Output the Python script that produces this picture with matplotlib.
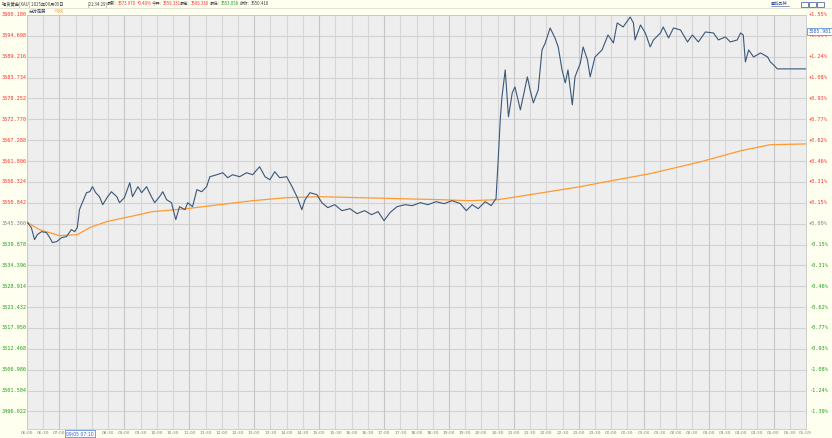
import matplotlib
matplotlib.use("Agg")
import matplotlib.pyplot as plt
from matplotlib.patches import Rectangle
from matplotlib.transforms import blended_transform_factory

plt.rcParams['font.family'] = ['Noto Sans CJK SC', 'DejaVu Sans']

# 分钟数(从06:00起) 与 价格
minutes = [1, 8, 14, 19, 27, 36, 42, 47, 55, 64, 73, 82, 88, 93, 97, 103, 110, 116, 121, 127,
           134, 140, 149, 156, 166, 171, 180, 190, 195, 205, 212, 221, 230, 236, 245, 251, 258,
           267, 275, 282, 292, 297, 306, 314, 323, 332, 338, 351, 362, 371, 380, 393, 406, 417,
           430, 440, 449, 458, 467, 480, 490, 499, 508, 514, 523, 536, 545, 556, 569, 582, 597,
           610, 624, 637, 649, 660, 671, 684, 699, 712, 727, 741, 756, 771, 786, 801, 812, 823,
           834, 847, 858, 867, 871, 875, 878, 884, 890, 897, 902, 912, 925, 930, 936, 945, 952,
           958, 967, 976, 982, 989, 995, 1000, 1008, 1013, 1023, 1028, 1036, 1041, 1050, 1063,
           1074, 1084, 1091, 1102, 1115, 1121, 1124, 1134, 1143, 1152, 1158, 1171, 1176, 1186,
           1195, 1208, 1221, 1230, 1241, 1254, 1269, 1278, 1291, 1300, 1313, 1319, 1324, 1328,
           1334, 1343, 1356, 1369, 1374, 1380, 1387, 1439]
prices = [3545.62, 3544.31, 3541.16, 3542.47, 3543.26, 3543.00, 3541.69, 3540.38, 3540.64, 3541.69,
          3541.95, 3543.79, 3543.26, 3544.31, 3549.03, 3551.13, 3553.49, 3553.75, 3555.07, 3553.49,
          3552.44, 3550.34, 3552.44, 3553.75, 3552.44, 3550.87, 3552.18, 3556.11, 3552.44, 3555.07,
          3553.49, 3555.07, 3552.44, 3550.87, 3552.44, 3553.75, 3551.66, 3550.87, 3546.41, 3549.82,
          3549.03, 3550.87, 3549.82, 3554.28, 3553.75, 3555.07, 3557.69, 3558.21, 3558.74, 3557.43,
          3558.21, 3557.69, 3558.74, 3558.21, 3560.31, 3557.69, 3556.90, 3559.00, 3557.43, 3557.69,
          3555.07, 3552.44, 3549.03, 3551.66, 3553.49, 3552.97, 3550.87, 3549.56, 3550.34, 3548.77,
          3549.29, 3547.98, 3548.77, 3547.72, 3548.51, 3546.15, 3548.25, 3549.82, 3550.34, 3550.08,
          3550.87, 3550.34, 3551.13, 3550.61, 3551.39, 3550.61, 3548.77, 3550.34, 3549.29, 3551.13,
          3550.08, 3551.92, 3562.15, 3573.16, 3578.67, 3585.75, 3573.43, 3579.72, 3581.29, 3575.26,
          3583.92, 3580.51, 3577.10, 3580.51, 3591.00, 3592.84, 3596.77, 3594.15, 3591.79, 3585.75,
          3582.34, 3585.75, 3576.57, 3583.92, 3587.59, 3591.79, 3588.38, 3583.92, 3589.16, 3591.00,
          3594.94, 3592.84, 3598.09, 3597.04, 3599.66, 3598.09, 3593.63, 3597.56, 3595.46, 3591.79,
          3593.63, 3595.46, 3597.04, 3594.15, 3596.77, 3596.25, 3593.10, 3594.94, 3593.10, 3595.72,
          3595.46, 3593.63, 3594.41, 3593.10, 3593.63, 3595.46, 3594.94, 3587.85, 3591.00, 3589.16,
          3590.21, 3589.16, 3587.85, 3587.07, 3586.02, 3586.02]

avg_minutes = [1, 23, 60, 93, 116, 147, 190, 232, 295, 356, 417, 480, 541, 689, 763, 819, 871,
               930, 1023, 1060, 1152, 1245, 1319, 1374, 1439]
avg_prices = [3545.62, 3543.79, 3542.21, 3542.47, 3544.31, 3545.88, 3547.20, 3548.51, 3549.29,
              3550.34, 3551.39, 3552.18, 3552.44, 3551.92, 3551.66, 3551.39, 3551.66, 3552.97,
              3555.07, 3556.10, 3558.50, 3561.60, 3564.50, 3566.10, 3566.30]

base = 3545.360
step = 5.482
levels = [base + k * step for k in range(-9, 11)]
pct_labels = ['-1.39%', '-1.24%', '-1.08%', '-0.93%', '-0.77%', '-0.62%', '-0.46%', '-0.31%',
              '-0.15%', '+0.00%', '+0.15%', '+0.31%', '+0.46%', '+0.62%', '+0.77%', '+0.93%',
              '+1.08%', '+1.24%', '+1.39%', '+1.55%']
time_labels = ['06:00', '06:30', '07:00', '07:30', '08:00', '08:30', '09:00', '09:30', '10:00',
               '10:30', '11:00', '11:30', '12:00', '12:30', '13:00', '13:30', '14:00', '14:30',
               '15:00', '15:30', '16:00', '16:30', '17:00', '17:30', '18:00', '18:30', '19:00',
               '19:30', '20:00', '20:30', '21:00', '21:30', '22:00', '22:30', '23:00', '23:30',
               '00:00', '00:30', '01:00', '01:30', '02:00', '02:30', '03:00', '03:30', '04:00',
               '04:30', '05:00', '05:30', '05:59']
tick_minutes = [30 * i for i in range(48)] + [1439]

W, H = 832, 438
cream = '#FFFFF0'
RED = '#FF3030'
GREEN = '#20A020'
GRAY = '#808080'
DARK = '#404040'

fig = plt.figure(figsize=(W / 100, H / 100), dpi=100, facecolor=cream)
x0, x1, ytop, ybot = 27, 806, 15, 429
ax = fig.add_axes([x0 / W, 1 - ybot / H, (x1 - x0) / W, (ybot - ytop) / H])
ax.set_facecolor('#EEEEEE')
ax.set_xlim(0, 1440)
ax.set_ylim(3491.4, 3600.18)

for lv in levels:
    ax.axhline(lv, color='#D2D2D2', lw=0.8, zorder=1)
for i, m in enumerate(tick_minutes[:-1]):
    ax.axvline(m, color='#C6C6C6' if i % 4 == 2 else '#D6D6D6', lw=0.8, zorder=1)

ax.plot(avg_minutes, avg_prices, color='#FF9A30', lw=0.9, zorder=3)
ax.plot(minutes, prices, color='#3B5777', lw=0.8, zorder=4)

ax.set_xticks([])
ax.set_yticks([])
for s in ax.spines.values():
    s.set_color('#C8C8C8')
    s.set_linewidth(0.6)

# 左右刻度标签
tr = blended_transform_factory(fig.transFigure, ax.transData)
mono = dict(family='DejaVu Sans Mono', fontsize=3.8)
for lv, pl in zip(levels, pct_labels):
    k = round((lv - base) / step)
    col = RED if k > 0 else (GREEN if k < 0 else GRAY)
    ax.text(2 / W, lv, f'{lv:.3f}', transform=tr, ha='left', va='center', color=col,
            clip_on=False, **mono)
    ax.text(809 / W, lv, pl, transform=tr, ha='left', va='center', color=col,
            clip_on=False, **mono)

# 时间标签
trx = blended_transform_factory(ax.transData, fig.transFigure)
ty = 1 - 433.5 / H
for m, lab in zip(tick_minutes, time_labels):
    if lab in ('07:30', '08:00'):
        continue
    ax.text(m, ty, lab, transform=trx, ha='center', va='center', fontsize=3.2,
            color=GRAY, family='DejaVu Sans', clip_on=False)
ax.text(72, ty, '09/05 07:10', transform=trx, ha='left', va='center', fontsize=3.3,
        color='#3060C0', family='DejaVu Sans', clip_on=False,
        bbox=dict(boxstyle='square,pad=0.2', fc='white', ec='#6090E0', lw=0.6))

# 最新价标签
ax.text(808.5 / W, 3595.9, '3585.981', transform=tr, ha='left', va='center', fontsize=3.4,
        color='#3060C0', family='DejaVu Sans Mono', clip_on=False,
        bbox=dict(boxstyle='square,pad=0.25', fc='white', ec='#6090E0', lw=0.6))

# 标题栏
fig.add_artist(plt.Line2D([0, 1], [1 - 7.5 / H, 1 - 7.5 / H], color='#E0E0D0', lw=0.6))
hy = 1 - 3.8 / H
fs = 3.1
renderer = fig.canvas.get_renderer()


def put_run(px, runs):
    # 依次排列彩色文字片段
    for s, c in runs:
        t = fig.text(px / W, hy, s, fontsize=fs, color=c, va='center')
        px = t.get_window_extent(renderer).x1 + 0.8


put_run(2, [('现货黄金[XAU] 2025年09月05日', DARK)])
put_run(87, [('[21:34:29]', DARK)])
put_run(107, [('最新:', DARK), ('3573.970', RED), ('+0.40%', RED)])
put_run(152, [('今开:', DARK), ('3559.331', RED)])
put_run(180, [('最高:', DARK), ('3595.330', RED)])
put_run(210, [('最低:', DARK), ('3553.058', GREEN)])
put_run(240, [('昨收:', DARK), ('3550.410', DARK)])

fig.text(29 / W, 1 - 11.3 / H, '分时走势', fontsize=3.2, color='#304060', va='center')
fig.text(55 / W, 1 - 11.3 / H, '均线', fontsize=3.2, color='#FF9A30', va='center')
fig.text(771 / W, hy, '叠加品种', fontsize=3.0, color='#3050A0', va='center')
fig.add_artist(plt.Line2D([771 / W, 789 / W], [1 - 6.2 / H, 1 - 6.2 / H], color='#3050A0', lw=0.4))
for bx in (801, 809, 817):
    fig.add_artist(Rectangle((bx / W, 1 - 6.5 / H), 7 / W, 4.5 / H, fill=False, ec='#3050A0', lw=0.5))

fig.savefig('out.png', dpi=100, facecolor=cream)
